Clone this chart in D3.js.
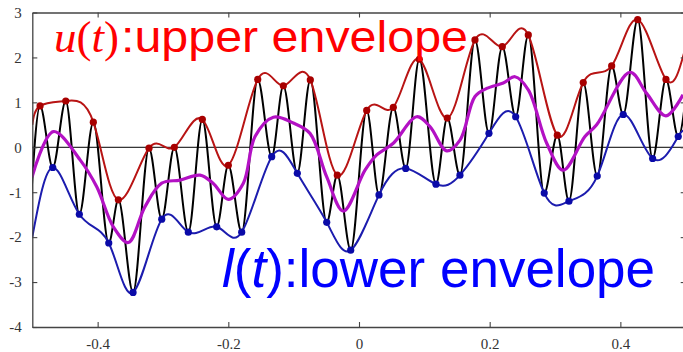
<!DOCTYPE html>
<html><head><meta charset="utf-8">
<script src="https://cdn.jsdelivr.net/npm/d3@7"></script>
<style>html,body{margin:0;padding:0;background:#fff;}svg{display:block;}</style>
</head><body>
<svg id="chart" width="683" height="352"></svg>
<script>
// Local maxima of the signal (red dots)
const maxT = [-0.4881,-0.4488,-0.4066,-0.3683,-0.3214,-0.2826,-0.2398,-0.2000,-0.1550,-0.1158,-0.0745,-0.0332,0.0118,0.0525,0.0923,0.1351,0.1775,0.2193,0.2591,0.3035,0.3432,0.3867,0.4265,0.4698];
const maxV = [0.92,1.03,0.56,-1.17,-0.02,0.00,0.62,-0.40,1.51,1.37,1.50,-0.62,0.82,0.89,1.96,0.65,2.39,2.24,2.50,0.27,1.44,1.81,2.84,1.51];
// Local minima of the signal (blue dots)
const minT = [-0.4687,-0.4280,-0.3830,-0.3458,-0.3019,-0.2612,-0.2178,-0.1795,-0.1336,-0.0944,-0.0494,-0.0127,0.0306,0.0715,0.1178,0.1545,0.1989,0.2398,0.2835,0.3213,0.3646,0.4044,0.4494,0.4886];
const minV = [-0.45,-1.49,-2.13,-3.23,-1.60,-1.89,-1.77,-1.89,-0.21,-0.58,-1.67,-2.29,-1.06,-0.47,-0.82,-0.62,0.31,0.68,-1.02,-1.20,-0.64,0.73,-0.25,0.24];
// Envelope values at the plot edges
const edgeT = [-0.5, 0.5];
const upperEdgeV = [0.50, 2.24];
const lowerEdgeV = [-2.00, 0.31];
// Signal extrema just outside the plotted range
const signalExtraT = [-0.506, 0.509];
const signalExtraV = [-2.2, 2.5];
// Mean envelope (magenta)
const meanT = [-0.5004,-0.4678,-0.4269,-0.4014,-0.3760,-0.3530,-0.3275,-0.3019,-0.2739,-0.2433,-0.2234,-0.2000,-0.1770,-0.1591,-0.1311,-0.1005,-0.0750,-0.0494,-0.0240,0.0092,0.0271,0.0525,0.0883,0.1086,0.1342,0.1546,0.1775,0.1954,0.2208,0.2387,0.2591,0.2873,0.3126,0.3458,0.3637,0.4147,0.4402,0.4698,0.4958];
const meanV = [-0.66,0.35,-0.28,-0.88,-1.77,-2.12,-1.32,-0.80,-0.73,-0.62,-0.80,-1.16,-0.80,0.24,0.67,0.54,0.31,-0.66,-1.42,-0.51,-0.17,0.09,0.68,0.46,-0.08,0.16,1.13,1.31,1.43,1.57,1.28,0.09,-0.51,0.24,0.50,1.67,1.20,0.70,1.17];
// Ticks
const xTicks = [-0.4,-0.2,0,0.2,0.4];
const xTickLabels = ["-0.4","-0.2","0","0.2","0.4"];
const yTicks = [-4,-3,-2,-1,0,1,2,3];
const yTickLabels = ["-4","-3","-2","-1","0","1","2","3"];

const svg = d3.select("#chart");
const X0 = 32.3, X1 = 685.7, Y0 = 12.5, Y1 = 327;
const x = d3.scaleLinear().domain([-0.5,0.5]).range([X0,X1]);
const y = d3.scaleLinear().domain([-4,3]).range([Y1,Y0]);

svg.append("defs").append("clipPath").attr("id","clip")
  .append("rect").attr("x",X0).attr("y",Y0).attr("width",X1-X0).attr("height",Y1-Y0);

const zip = (ts, vs) => ts.map((t,i)=>({t, v: vs[i]}));
const maxPts = zip(maxT, maxV), minPts = zip(minT, minV);
const signal = zip(signalExtraT, signalExtraV).concat(maxPts, minPts).sort((a,b)=>a.t-b.t);
const upper = [{t:edgeT[0], v:upperEdgeV[0]}, ...maxPts, {t:edgeT[1], v:upperEdgeV[1]}];
const lower = [{t:edgeT[0], v:lowerEdgeV[0]}, ...minPts, {t:edgeT[1], v:lowerEdgeV[1]}];
const mean = zip(meanT, meanV);

const g = svg.append("g").attr("clip-path","url(#clip)");
// zero line
g.append("line").attr("x1",X0).attr("x2",X1).attr("y1",y(0)).attr("y2",y(0))
  .attr("stroke","#000").attr("stroke-width",1);

const line = (curve) => d3.line().x(d=>x(d.t)).y(d=>y(d.v)).curve(curve);
g.append("path").attr("d", line(d3.curveMonotoneX)(signal))
  .attr("fill","none").attr("stroke","#000").attr("stroke-width",2);
g.append("path").attr("d", line(d3.curveNatural)(upper))
  .attr("fill","none").attr("stroke","#b81414").attr("stroke-width",2);
g.append("path").attr("d", line(d3.curveNatural)(lower))
  .attr("fill","none").attr("stroke","#1c1cae").attr("stroke-width",2);
g.append("path").attr("d", line(d3.curveCatmullRom.alpha(0.5))(mean))
  .attr("fill","none").attr("stroke","#b311c4").attr("stroke-width",3.2);

g.selectAll("circle.mx").data(maxPts).join("circle").attr("class","mx")
  .attr("cx",d=>x(d.t)).attr("cy",d=>y(d.v)).attr("r",3.6).attr("fill","#a80000");
g.selectAll("circle.mn").data(minPts).join("circle").attr("class","mn")
  .attr("cx",d=>x(d.t)).attr("cy",d=>y(d.v)).attr("r",3.6).attr("fill","#0a0aa8");

// axes
const axisStyle = sel => {
  sel.selectAll("path.domain").attr("stroke","#444").attr("stroke-width",1.3);
  sel.selectAll(".tick line").attr("stroke","#444").attr("stroke-width",1.1);
  sel.selectAll(".tick text").attr("fill","#333")
    .style("font-family","'Liberation Serif', 'Times New Roman', serif").style("font-size","15px");
};
svg.append("g").attr("transform",`translate(${X0},0)`)
  .call(d3.axisLeft(y).tickValues(yTicks).tickFormat((d,i)=>yTickLabels[i]).tickSizeInner(-5).tickSizeOuter(0).tickPadding(10.5))
  .call(axisStyle);
svg.append("g").attr("transform",`translate(0,${Y1})`)
  .call(d3.axisBottom(x).tickValues(xTicks).tickFormat((d,i)=>xTickLabels[i]).tickSizeInner(-5).tickSizeOuter(0).tickPadding(11))
  .call(axisStyle);
svg.append("g").attr("transform",`translate(0,${Y0})`)
  .call(d3.axisTop(x).tickValues(xTicks).tickFormat("").tickSizeInner(-5).tickSizeOuter(0))
  .call(axisStyle);
svg.append("g").attr("transform",`translate(${X1},0)`)
  .call(d3.axisRight(y).tickValues(yTicks).tickFormat("").tickSizeInner(-5).tickSizeOuter(0))
  .call(axisStyle);
svg.selectAll("text").filter(function(){return this.textContent==="";}).remove();

// labels
const up = svg.append("text").attr("x",54).attr("y",52)
  .style("font-family","'Liberation Serif', 'Times New Roman', serif").style("font-size","45px").attr("fill","#ff0000");
up.append("tspan").attr("font-style","italic").text("u");
up.append("tspan").text("(");
up.append("tspan").attr("font-style","italic").text("t");
up.append("tspan").text(")");
svg.append("text").attr("x",121).attr("y",52)
  .style("font-family","'Liberation Sans', Arial, sans-serif").style("font-size","44px").attr("fill","#ff0000")
  .attr("textLength",347).attr("lengthAdjust","spacingAndGlyphs")
  .text(":upper envelope");

const lo = svg.append("text").attr("x",222).attr("y",287)
  .style("font-family","'Liberation Sans', Arial, sans-serif").style("font-size","53px").attr("fill","#0000ff");
lo.append("tspan").attr("font-style","italic").text("l");
lo.append("tspan").text("(");
lo.append("tspan").attr("font-style","italic").text("t");
lo.append("tspan").text("):lower envelope");
</script>
</body></html>
